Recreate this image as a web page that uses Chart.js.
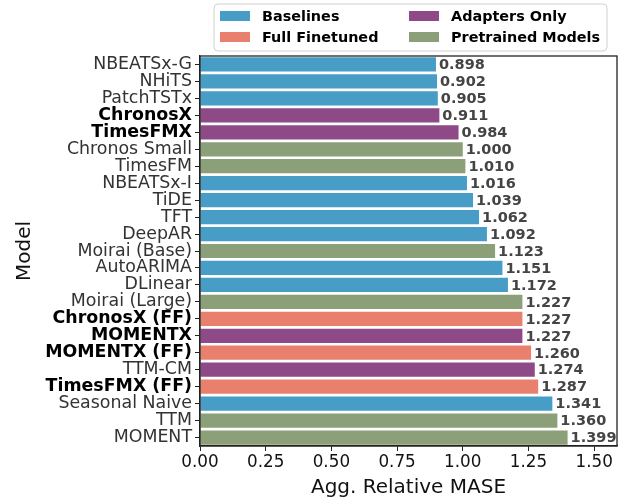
<!DOCTYPE html>
<html>
<head>
<meta charset="utf-8">
<script src="https://cdn.jsdelivr.net/npm/chart.js@4"></script>
<style>
  html, body { margin: 0; padding: 0; background: #fff; }
  #wrap { width: 625px; height: 500px; }
</style>
</head>
<body>
<div id="wrap"><canvas id="myChart"></canvas></div>
<script>
const models = ['NBEATSx-G', 'NHiTS', 'PatchTSTx', 'ChronosX', 'TimesFMX', 'Chronos Small', 'TimesFM',
    'NBEATSx-I', 'TiDE', 'TFT', 'DeepAR', 'Moirai (Base)', 'AutoARIMA', 'DLinear', 'Moirai (Large)',
    'ChronosX (FF)', 'MOMENTX', 'MOMENTX (FF)', 'TTM-CM', 'TimesFMX (FF)', 'Seasonal Naive', 'TTM', 'MOMENT'];
const mase = [0.898, 0.902, 0.905, 0.911, 0.984, 1.000, 1.010, 1.016, 1.039, 1.062, 1.092, 1.123, 1.151,
    1.172, 1.227, 1.227, 1.227, 1.260, 1.274, 1.287, 1.341, 1.360, 1.399];
// B = Baselines, F = Full Finetuned, A = Adapters Only, P = Pretrained Models
const groups = ['B', 'B', 'B', 'A', 'A', 'P', 'P', 'B', 'B', 'B', 'B', 'P', 'B', 'B', 'P',
    'F', 'A', 'F', 'A', 'F', 'B', 'P', 'P'];
const boldModels = ['ChronosX', 'TimesFMX', 'ChronosX (FF)', 'MOMENTX', 'MOMENTX (FF)', 'TimesFMX (FF)'];
const xTicks = [0, 0.25, 0.5, 0.75, 1.0, 1.25, 1.5];

const groupColors = { B: '#489dc6', F: '#e9806e', A: '#8d4a87', P: '#8b9f78' };
const legendItems = [
    { key: 'B', text: 'Baselines' },
    { key: 'A', text: 'Adapters Only' },
    { key: 'F', text: 'Full Finetuned' },
    { key: 'P', text: 'Pretrained Models' }
];
const FONT = "'DejaVu Sans', sans-serif";

// value labels at the end of each bar
const valueLabels = {
    id: 'valueLabels',
    afterDatasetsDraw(chart) {
        const c = chart.ctx;
        const meta = chart.getDatasetMeta(0);
        c.save();
        c.font = 'bold 14.5px ' + FONT;
        c.fillStyle = '#444';
        c.textAlign = 'left';
        c.textBaseline = 'middle';
        meta.data.forEach((bar, i) => {
            c.fillText(mase[i].toFixed(3), bar.x + 3, bar.y + 1);
        });
        c.restore();
    }
};

// full frame around plot area + legend box on top
const frameAndLegend = {
    id: 'frameAndLegend',
    afterDraw(chart) {
        const c = chart.ctx;
        const a = chart.chartArea;
        c.save();
        c.strokeStyle = '#222';
        c.lineWidth = 1.3;
        c.strokeRect(a.left, a.top, a.right - a.left, a.bottom - a.top);

        // legend
        const lx = 214, ly = 4, lw = 393, lh = 47, r = 4;
        c.beginPath();
        c.moveTo(lx + r, ly);
        c.arcTo(lx + lw, ly, lx + lw, ly + lh, r);
        c.arcTo(lx + lw, ly + lh, lx, ly + lh, r);
        c.arcTo(lx, ly + lh, lx, ly, r);
        c.arcTo(lx, ly, lx + lw, ly, r);
        c.closePath();
        c.fillStyle = 'rgba(255,255,255,0.85)';
        c.fill();
        c.strokeStyle = '#d0d0d0';
        c.lineWidth = 1;
        c.stroke();

        c.font = 'bold 14.4px ' + FONT;
        c.textBaseline = 'middle';
        c.textAlign = 'left';
        const colX = [220, 409];
        const rowY = [16, 37];
        legendItems.forEach((it, i) => {
            const x = colX[i % 2], y = rowY[Math.floor(i / 2)];
            c.fillStyle = groupColors[it.key];
            c.fillRect(x, y - 5, 30, 10);
            c.fillStyle = '#000';
            c.fillText(it.text, x + 42, y + 1);
        });
        c.restore();
    }
};

let ctx = document.getElementById('myChart');
new Chart(ctx, {
    type: 'bar',
    data: {
        labels: models,
        datasets: [{
            data: mase,
            backgroundColor: groups.map(g => groupColors[g]),
            borderWidth: 0,
            barPercentage: 0.84,
            categoryPercentage: 1.0
        }]
    },
    options: {
        indexAxis: 'y',
        responsive: true,
        maintainAspectRatio: false,
        animation: false,
        layout: { padding: { top: 56, right: 8, left: 0, bottom: 0 } },
        scales: {
            x: {
                min: 0,
                max: 1.587,
                afterFit(scale) { scale.height = 54; },
                ticks: {
                    stepSize: 0.25,
                    includeBounds: false,
                    color: '#111',
                    padding: 2,
                    font: { family: FONT, size: 16.8 },
                    callback: (v) => Number(v).toFixed(2)
                },
                afterBuildTicks(scale) {
                    scale.ticks = xTicks.map(v => ({ value: v }));
                },
                grid: {
                    drawOnChartArea: false,
                    drawTicks: true,
                    tickLength: 5,
                    tickColor: '#222'
                },
                border: { color: '#222', width: 1.3 },
                title: {
                    display: true,
                    text: 'Agg. Relative MASE',
                    color: '#111',
                    font: { family: FONT, size: 20 },
                    padding: { top: 0, bottom: 0 }
                }
            },
            y: {
                afterFit(scale) { scale.width = 200; },
                ticks: {
                    padding: 3,
                    autoSkip: false,
                    color: (c) => boldModels.includes(models[c.index]) ? '#000' : '#333',
                    font: (c) => ({
                        family: FONT,
                        size: 17.4,
                        weight: boldModels.includes(models[c.index]) ? 'bold' : 'normal'
                    })
                },
                grid: {
                    offset: false,
                    drawOnChartArea: false,
                    drawTicks: true,
                    tickLength: 5,
                    tickColor: '#222'
                },
                border: { color: '#222', width: 1.3 },
                title: {
                    display: true,
                    text: 'Model',
                    color: '#111',
                    font: { family: FONT, size: 20 },
                    padding: { top: 13, bottom: 0 }
                }
            }
        },
        plugins: {
            legend: { display: false },
            tooltip: { enabled: false }
        }
    },
    plugins: [valueLabels, frameAndLegend]
});
</script>
</body>
</html>
